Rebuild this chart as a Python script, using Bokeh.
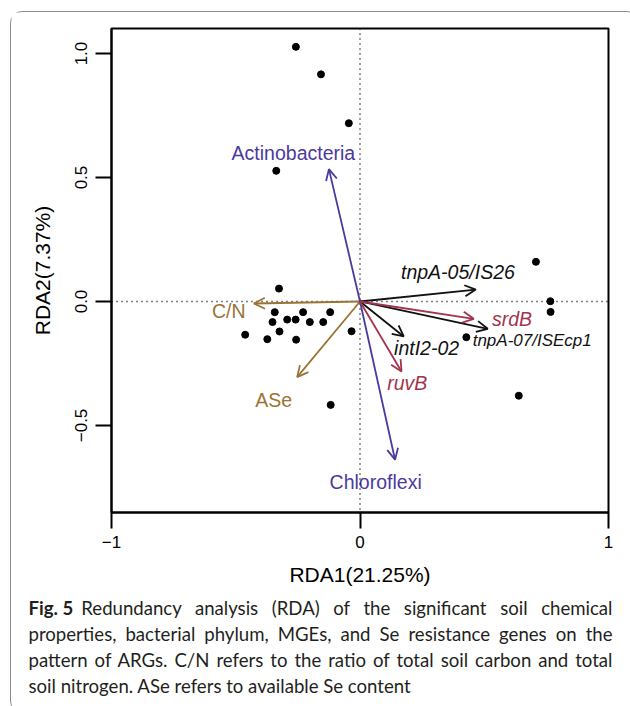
from bokeh.plotting import figure
from bokeh.models import (Range1d, Arrow, OpenHead, ColumnDataSource, Span, FixedTicker, Div)
from bokeh.layouts import column
from bokeh.embed import file_html
from bokeh.resources import INLINE
from bokeh.core.properties import value

# ---- data ----
site_x = [-0.258, -0.157, -0.045, -0.337, 0.708, -0.326, 0.766, 0.767, -0.343, -0.229,
          -0.120, -0.352, -0.293, -0.259, -0.202, -0.148, -0.462, -0.373, -0.324, -0.257,
          -0.034, 0.428, 0.639, -0.118]
site_y = [1.027, 0.916, 0.719, 0.527, 0.160, 0.052, 0.001, -0.042, -0.043, -0.043,
          -0.043, -0.083, -0.073, -0.073, -0.083, -0.083, -0.134, -0.152, -0.121, -0.154,
          -0.120, -0.144, -0.380, -0.417]

vec_names = ["C/N", "ASe", "Actinobacteria", "Chloroflexi", "tnpA-05/IS26",
             "tnpA-07/ISEcp1", "intI2-02", "srdB", "ruvB"]
vec_x = [-0.427, -0.253, -0.125, 0.141, 0.466, 0.514, 0.176, 0.458, 0.167]
vec_y = [-0.008, -0.305, 0.534, -0.638, 0.048, -0.110, -0.141, -0.070, -0.282]
lab_x = [-0.528, -0.347, -0.268, 0.063, 0.394, 0.693, 0.268, 0.612, 0.190]
lab_y = [-0.039, -0.397, 0.597, -0.726, 0.118, -0.157, -0.187, -0.070, -0.329]
vec_group = ["soil", "soil", "phylum", "phylum", "MGE", "MGE", "MGE", "Se", "Se"]

x_ticks = [-1, 0, 1]
x_tick_labels = ["\u22121", "0", "1"]
y_ticks = [-0.5, 0.0, 0.5, 1.0]
y_tick_labels = ["\u22120.5", "0.0", "0.5", "1.0"]

caption_head = "Fig. 5"
caption_lines = [
    "Redundancy analysis (RDA) of the significant soil chemical",
    "properties, bacterial phylum, MGEs, and Se resistance genes on the",
    "pattern of ARGs. C/N refers to the ratio of total soil carbon and total",
    "soil nitrogen. ASe refers to available Se content",
]

# ---- styles ----
group_color = {"soil": "#9a7436", "phylum": "#4b3a9e", "MGE": "#111111", "Se": "#a2344f"}
group_style = {"soil": "normal", "phylum": "normal", "MGE": "italic", "Se": "italic"}
FONT = "Liberation Sans"

p = figure(width=617, height=586, x_range=Range1d(-1, 1), y_range=Range1d(-0.851, 1.101),
           output_backend="svg", toolbar_location=None,
           min_border_left=100, min_border_right=20, min_border_top=16, min_border_bottom=86,
           x_axis_label="RDA1(21.25%)", y_axis_label="RDA2(7.37%)")
p.grid.visible = False
p.outline_line_color = "black"
p.outline_line_width = 2
p.background_fill_color = "white"
p.border_fill_color = "white"

p.xaxis.ticker = FixedTicker(ticks=x_ticks)
p.yaxis.ticker = FixedTicker(ticks=y_ticks)
p.xaxis.major_label_overrides = {t: s for t, s in zip(x_ticks, x_tick_labels)}
p.yaxis.major_label_overrides = {t: s for t, s in zip(y_ticks, y_tick_labels)}
for ax in (p.xaxis[0], p.yaxis[0]):
    ax.axis_line_width = 2
    ax.axis_line_color = "black"
    ax.major_tick_line_width = 2
    ax.major_tick_line_color = "black"
    ax.major_tick_out = 16
    ax.major_tick_in = 0
    ax.minor_tick_line_color = None
    ax.major_label_text_font = FONT
    ax.major_label_text_font_size = "17px"
    ax.major_label_text_color = "black"
    ax.axis_label_text_font = FONT
    ax.axis_label_text_font_size = "21px"
    ax.axis_label_text_font_style = "normal"
    ax.axis_label_text_color = "black"
p.xaxis.major_label_standoff = 7
p.xaxis.axis_label_standoff = 12
p.yaxis.major_label_standoff = 8
p.yaxis.axis_label_standoff = 19
p.yaxis.major_label_orientation = "vertical"

# dotted reference lines
p.add_layout(Span(location=0, dimension="height", line_color="black", line_width=1.5, line_dash="1 4"))
p.add_layout(Span(location=0, dimension="width", line_color="black", line_width=1.5, line_dash="1 4"))

# site points
p.scatter(site_x, site_y, size=7, color="black")

# arrows
for vx, vy, g in zip(vec_x, vec_y, vec_group):
    c = group_color[g]
    p.add_layout(Arrow(end=OpenHead(size=11, line_color=c, line_width=1.8),
                       x_start=0, y_start=0, x_end=vx, y_end=vy,
                       line_color=c, line_width=1.8))

# arrow labels
src = ColumnDataSource(dict(
    x=lab_x, y=lab_y, text=vec_names,
    color=[group_color[g] for g in vec_group],
    style=[group_style[g] for g in vec_group],
    size=["17px" if n == "tnpA-07/ISEcp1" else "19.5px" for n in vec_names],
))
p.text(x="x", y="y", text="text", source=src, text_align="center", text_baseline="middle",
       text_font=value(FONT), text_font_size="size", text_color="color",
       text_font_style="style")

# caption
just = "text-align:justify;text-align-last:justify;white-space:nowrap;"
rows = []
for i, line in enumerate(caption_lines):
    st = just if i < len(caption_lines) - 1 else "white-space:nowrap;"
    if i == 0:
        body = (f'<span style="display:inline-block;font-weight:bold;margin-right:8px;">'
                f'{caption_head}</span>' + line)
    else:
        body = line
    rows.append(f'<div style="{st}">{body}</div>')
cap_html = ('<div style="position:relative;top:-8px;margin-left:12.5px;width:584px;'
            'font-family:Lato;font-size:18.6px;line-height:26px;color:#231f20;">'
            + "".join(rows) + "</div>")
cap = Div(text=cap_html, width=617, height=104)

root = column(p, cap, spacing=0, margin=(11, 0, 0, 10),
              styles={"border": "1.5px solid #8c8c8c", "border-radius": "12px"})

open("out.html", "w").write(file_html(root, INLINE))
